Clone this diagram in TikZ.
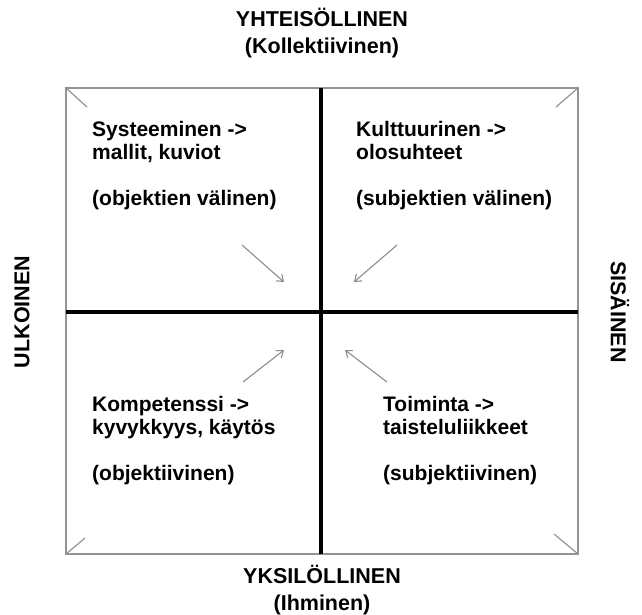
\documentclass[tikz,border=0pt]{standalone}
\usepackage{fontspec}
\setmainfont{Liberation Sans}
\usetikzlibrary{arrows.meta}

\begin{document}
\begin{tikzpicture}[x=1pt,y=-1pt,
  lbl/.style={font=\fontsize{21.5}{26.5}\selectfont\bfseries, align=center, inner sep=0pt},
  quad/.style={font=\fontsize{21}{23}\selectfont\bfseries, align=left, anchor=north west, inner sep=0pt},
  frame/.style={draw=gray!85, line width=1.6pt},
  cross/.style={draw=black, line width=3.8pt},
  corner/.style={draw=gray!85, line width=1.2pt},
  pointer/.style={draw=gray!90, line width=1.1pt, -{Straight Barb[length=6pt,width=9pt]}}]
\useasboundingbox (0,0) rectangle (642,614);
\draw[frame] (66,88) rectangle (578,554);
\draw[cross] (321,88) -- (321,554);
\draw[cross] (66,312) -- (578,312);
\draw[corner] (66,88) -- (87,107);
\draw[corner] (578,88) -- (556,107);
\draw[corner] (66,554) -- (85,538);
\draw[corner] (578,554) -- (554,534);
\node[lbl] (top) at (322,33) {YHTEIS\"OLLINEN\\(Kollektiivinen)};
\node[lbl] (bottom) at (322,590) {YKSIL\"OLLINEN\\(Ihminen)};
\node[lbl, rotate=90] (left) at (22,312) {ULKOINEN};
\node[lbl, rotate=-90] (right) at (620,312) {SIS\"AINEN};
\node[quad] (sys) at (92,121) {Systeeminen ->\\mallit, kuviot\\[23pt](objektien v\"alinen)};
\node[quad] (kul) at (356,121) {Kulttuurinen ->\\olosuhteet\\[23pt](subjektien v\"alinen)};
\node[quad] (kom) at (92,396) {Kompetenssi ->\\kyvykkyys, k\"ayt\"os\\[23pt](objektiivinen)};
\node[quad] (toi) at (383,396) {Toiminta ->\\taisteluliikkeet\\[23pt](subjektiivinen)};
\coordinate (a1) at (242,245);
\coordinate (b1) at (284,282);
\coordinate (a2) at (397,245);
\coordinate (b2) at (354,282);
\coordinate (a3) at (243,382);
\coordinate (b3) at (284,350);
\coordinate (a4) at (387,382);
\coordinate (b4) at (345,350);
\draw[pointer] (a1) -- (b1);
\draw[pointer] (a2) -- (b2);
\draw[pointer] (a3) -- (b3);
\draw[pointer] (a4) -- (b4);
\end{tikzpicture}
\end{document}
